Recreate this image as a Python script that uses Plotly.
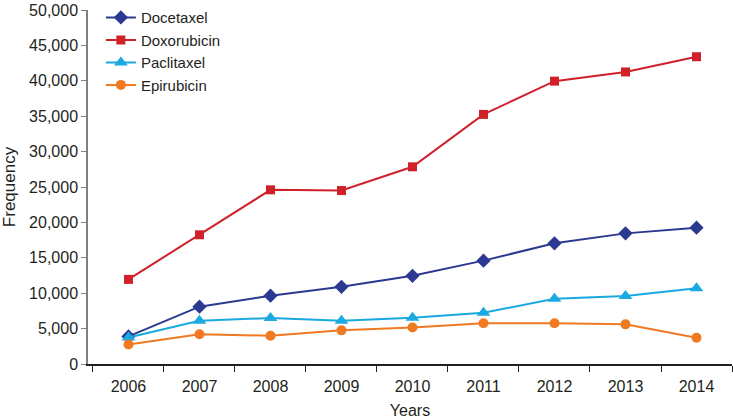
import plotly.graph_objects as go

# Values
years = ["2006", "2007", "2008", "2009", "2010", "2011", "2012", "2013", "2014"]

docetaxel = [3900, 8100, 9650, 10900, 12450, 14600, 17050, 18450, 19250]
doxorubicin = [11950, 18250, 24600, 24500, 27850, 35250, 39950, 41250, 43400]
paclitaxel = [3750, 6100, 6500, 6100, 6550, 7250, 9200, 9600, 10700]
epirubicin = [2750, 4200, 4000, 4750, 5150, 5750, 5750, 5600, 3700]

series = [
    ("Docetaxel", docetaxel, "#2b3990", "diamond", 11),
    ("Doxorubicin", doxorubicin, "#d0202a", "square", 9),
    ("Paclitaxel", paclitaxel, "#1aa9e0", "triangle-up", 12),
    ("Epirubicin", epirubicin, "#f07a22", "circle", 10),
]

font = "Liberation Sans, Arial, sans-serif"

fig = go.Figure()
for name, vals, color, sym, size in series:
    fig.add_trace(go.Scatter(
        x=years, y=vals, name=name, mode="lines+markers",
        line=dict(color=color, width=2),
        marker=dict(symbol=sym, size=size, color=color),
    ))

fig.update_layout(
    width=733, height=419,
    margin=dict(l=88, r=1, t=7, b=55),
    plot_bgcolor="white", paper_bgcolor="white",
    font=dict(family=font, color="#231f20", size=16),
    showlegend=True,
    legend=dict(
        x=0.02, y=1.025, xanchor="left", yanchor="top",
        font=dict(size=15, color="#231f20"),
        bgcolor="rgba(0,0,0,0)", tracegroupgap=0,
        itemwidth=30,
    ),
)

fig.update_xaxes(
    type="category", range=[-0.57, 8.5], automargin=False,
    tickson="boundaries", ticks="outside", ticklen=6, tickwidth=1.2,
    tickcolor="#231f20", showline=True, linecolor="#231f20", linewidth=1.5,
    showgrid=False, zeroline=False, ticklabelstandoff=7,
    tickfont=dict(size=16),
    title=dict(text="Years", font=dict(size=16), standoff=12),
)
fig.update_yaxes(
    range=[0, 50000], dtick=5000, tickformat=",", automargin=False,
    ticks="outside", ticklen=5, tickwidth=1.2, tickcolor="#808080",
    showline=True, linecolor="#808080", linewidth=1.5,
    showgrid=False, zeroline=False,
    tickfont=dict(size=16),
    title=dict(text="Frequency", font=dict(size=17), standoff=10),
)

# drop the page's default body margin so the figure sits at the window corner
fig.write_html("out.html", config={"displayModeBar": False},
               post_script="document.body.style.margin='0';")
